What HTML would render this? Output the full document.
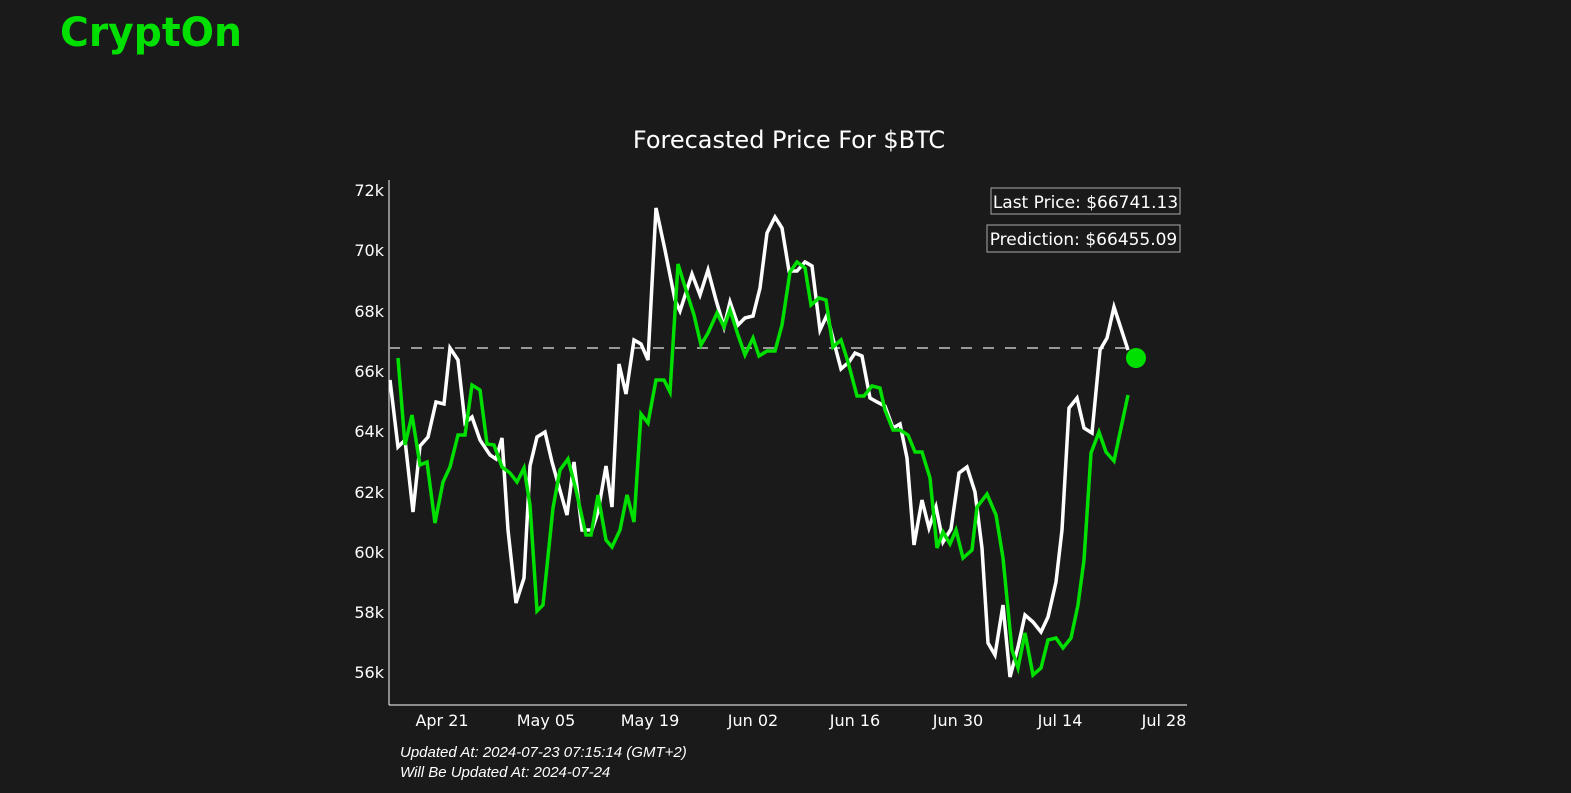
<!DOCTYPE html>
<html><head><meta charset="utf-8"><style>
html,body{margin:0;padding:0;background:#1a1a1a;width:1571px;height:793px;overflow:hidden;font-family:"Liberation Sans","DejaVu Sans",sans-serif;}
</style></head><body>
<svg width="1571" height="793" xmlns="http://www.w3.org/2000/svg" style="position:absolute;left:0;top:0">
<rect width="1571" height="793" fill="#1a1a1a"/>
<text x="60" y="46" fill="#00e000" font-size="40" font-weight="bold" font-family="DejaVu Sans, sans-serif" textLength="182" lengthAdjust="spacingAndGlyphs">CryptOn</text>
<text x="789" y="148" fill="#fff" font-size="24" text-anchor="middle" font-family="DejaVu Sans, sans-serif">Forecasted Price For $BTC</text>
<g fill="#fff" font-size="16" font-family="DejaVu Sans, sans-serif" text-anchor="end">
<text x="384" y="196">72k</text><text x="384" y="256">70k</text><text x="384" y="317">68k</text><text x="384" y="377">66k</text><text x="384" y="437">64k</text><text x="384" y="498">62k</text><text x="384" y="558">60k</text><text x="384" y="618">58k</text><text x="384" y="678">56k</text>
</g>
<g fill="#fff" font-size="16" font-family="DejaVu Sans, sans-serif" text-anchor="middle">
<text x="442" y="726">Apr 21</text><text x="546" y="726">May 05</text><text x="650" y="726">May 19</text><text x="753" y="726">Jun 02</text><text x="855" y="726">Jun 16</text><text x="958" y="726">Jun 30</text><text x="1060" y="726">Jul 14</text><text x="1164" y="726">Jul 28</text>
</g>
<line x1="389" y1="180" x2="389" y2="705" stroke="#fff" stroke-width="1"/>
<line x1="389" y1="705" x2="1187" y2="705" stroke="#fff" stroke-width="1"/>
<line x1="389" y1="348" x2="1136" y2="348" stroke="#999" stroke-width="2" stroke-dasharray="11,11"/>
<polyline fill="none" stroke="#fff" stroke-width="3.5" points="390,380 398,447 405,440 413,512 420,446 428,437 436,402 444,404 450,348 458,360 465,423 472,417 480,440 490,455 496,459 502,438 508,530 516,603 524,578 530,466 537,437 545,432 552,462 567,515 574,462 582,530 592,530 598,512 606,466 612,507 619,364 626,394 634,340 641,344 648,360 656,208 665,250 675,300 680,311 692,274 700,295 708,270 716,300 724,327 730,302 738,325 745,318 753,316 760,288 767,233 775,217 782,228 789,271 797,271 805,262 812,266 820,330 827,315 836,350 841,369 849,362 855,353 862,356 870,398 877,402 885,406 893,428 900,424 907,458 914,545 922,500 929,528 936,507 943,542 951,529 959,473 967,467 975,492 982,548 988,643 995,655 1003,605 1010,677 1018,647 1025,615 1033,622 1041,632 1048,617 1056,582 1062,530 1069,408 1077,398 1084,428 1092,433 1100,350 1107,338 1114,307 1128,350"/>
<polyline fill="none" stroke="#00e000" stroke-width="3.5" points="398,358 405,445 412,415 420,465 427,462 435,523 443,482 450,467 458,435 465,435 472,385 480,390 487,444 494,445 502,467 510,473 517,482 524,468 530,505 537,611 543,605 553,508 560,470 568,459 576,490 586,535 591,535 598,495 606,540 612,547 620,530 627,495 634,522 641,414 648,423 656,380 664,380 670,392 678,264 686,290 694,315 701,345 708,333 717,313 724,327 730,310 738,335 745,355 753,338 759,356 767,351 775,351 782,325 790,272 797,262 805,268 811,305 819,298 826,300 833,347 841,340 848,362 857,396 864,396 872,386 880,388 885,410 893,430 900,430 908,435 915,452 922,452 930,478 937,548 943,532 950,544 956,530 963,558 972,550 977,507 987,494 996,515 1003,558 1012,650 1018,668 1025,633 1033,675 1041,668 1048,640 1056,638 1063,648 1071,638 1078,605 1084,560 1091,453 1099,432 1106,452 1114,461 1128,395"/>
<circle cx="1136" cy="358" r="10" fill="#00e000"/>
<rect x="991" y="188" width="189" height="26" fill="#1a1a1a" stroke="#aaa" stroke-width="1"/>
<text x="1085.5" y="208" fill="#fff" font-size="17" text-anchor="middle" font-family="DejaVu Sans, sans-serif">Last Price: $66741.13</text>
<rect x="987" y="225" width="193" height="27" fill="#1a1a1a" stroke="#aaa" stroke-width="1"/>
<text x="1083.5" y="245" fill="#fff" font-size="17" text-anchor="middle" font-family="DejaVu Sans, sans-serif">Prediction: $66455.09</text>
<text x="400" y="757" fill="#fff" font-size="15" font-style="italic">Updated At: 2024-07-23 07:15:14 (GMT+2)</text>
<text x="400" y="777" fill="#fff" font-size="15" font-style="italic">Will Be Updated At: 2024-07-24</text>
</svg>
</body></html>
